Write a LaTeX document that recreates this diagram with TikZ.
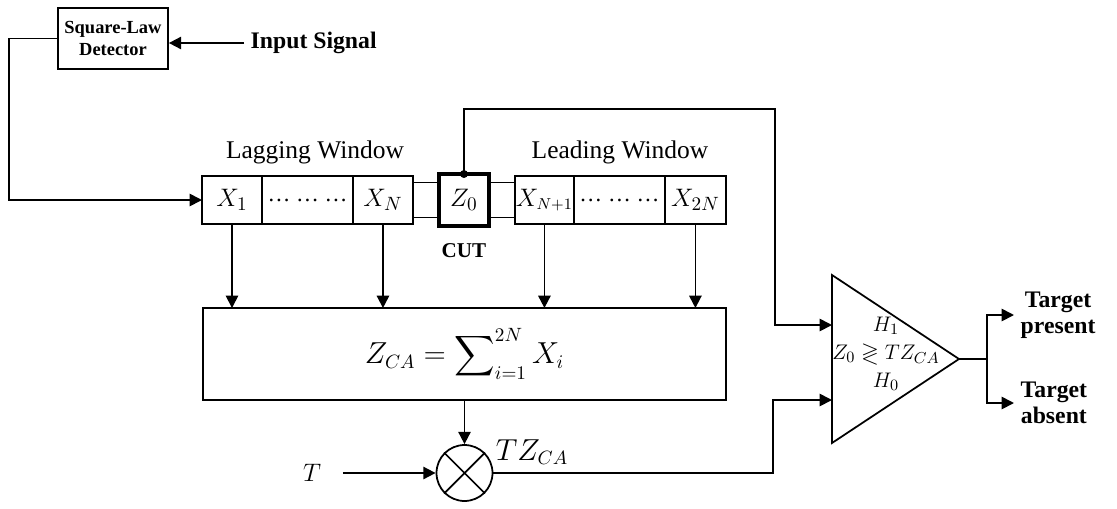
\documentclass[tikz,border=0pt]{standalone}
\usepackage{amsmath,amssymb}
\usepackage{fontspec}
\setmainfont{Liberation Serif}
\usetikzlibrary{arrows.meta,positioning,calc}

\begin{document}
\begin{tikzpicture}[x=0.02cm,y=-0.02cm,
  line width=1pt, font=\fontsize{15}{18}\selectfont,
  cell/.style={draw,outer sep=0pt,inner sep=0pt,minimum height=0.96cm},
  link/.style={draw,outer sep=0pt,inner sep=0pt,minimum width=0.52cm,minimum height=0.7cm},
  lbl/.style={font=\fontsize{14.5}{17}\selectfont},
  bold/.style={font=\fontsize{13.5}{15}\selectfont\bfseries,align=center},
  arr/.style={-{Triangle[length=7pt,width=7pt]}},
  node distance=0pt]
\useasboundingbox (0,0) rectangle (1117,508);
% detector and input
\node[draw,align=center,minimum width=2.2cm,minimum height=1.22cm,inner sep=1pt,
  font=\fontsize{10.5}{12.5}\selectfont\bfseries] (sld) at (113,38.5) {Square-Law\\Detector};
\node[bold,anchor=west] (inp) at (244,43) {Input Signal};
\draw[arr] (inp) -- (inp -| sld.east);
% reference cells
\node[cell,minimum width=1.2cm,anchor=west] (x1) at (202,200) {$X_1$};
\node[cell,minimum width=1.82cm,right=of x1,font=\fontsize{13}{16}\selectfont] (d1) {\ldots\ \ldots\ \ldots};
\node[cell,minimum width=1.2cm,right=of d1] (xn) {$X_N$};
\node[link,right=of xn] (l1) {};
\node[cell,minimum width=1.0cm,minimum height=1.04cm,line width=1.8pt,right=of l1] (z0) {$Z_0$};
\node[link,right=of z0] (l2) {};
\node[cell,minimum width=1.18cm,right=of l2,font=\fontsize{13.5}{16}\selectfont] (xa) {$X_{N+1}$};
\node[cell,minimum width=1.82cm,right=of xa,font=\fontsize{13}{16}\selectfont] (d2) {\ldots\ \ldots\ \ldots};
\node[cell,minimum width=1.22cm,right=of d2] (xb) {$X_{2N}$};
\node[lbl] (lag) at (315,152) {Lagging Window};
\node[lbl] (lead) at (620,152) {Leading Window};
\node[bold,font=\fontsize{12}{14}\selectfont\bfseries,below=6pt of z0] (cut) {CUT};
\draw[arr] (sld.west) -- ++(-48,0) |- (x1.west);
% sum and multiplier
\node[draw,outer sep=0pt,minimum width=10.46cm,minimum height=1.84cm,
  font=\fontsize{16}{19}\selectfont] (sum) at (464.5,354) {$Z_{CA}=\displaystyle\sum\nolimits_{i=1}^{2N}X_i$};
\foreach \c in {x1,xn,xa,xb}
  \draw[arr] (\c.south) -- (\c.south |- sum.north);
\node[draw,circle,minimum size=1.12cm,inner sep=0pt] (mul) at (464.5,473) {};
\draw (mul.45) -- (mul.225) (mul.135) -- (mul.315);
\draw[arr] (sum) -- (mul);
\node[minimum width=1.2cm] (t) at (312,473) {$T$};
\draw[arr] (t) -- (mul);
\node[font=\fontsize{16}{19}\selectfont] (tz) at (532,452) {$TZ_{CA}$};
% comparator
\coordinate (cA) at (832,275);
\coordinate (cB) at (832,443);
\coordinate (apex) at (959,359);
\coordinate (inA) at (832,325);
\coordinate (inB) at (832,400);
\draw (cA) -- (apex) -- (cB) -- cycle;
\node[align=center,font=\fontsize{13}{16}\selectfont] (cmp) at (886,354) {$H_1$\\$Z_0\gtrless TZ_{CA}$\\$H_0$};
\draw[arr] (z0.north) |- ++(311,-65) |- (inA);
\fill (z0.north) circle (0.08cm);
\draw[arr] (mul.east) -- ++(280,0) |- (inB);
% decision
\draw (apex) -- ++(28,0) coordinate (br);
\node[bold,anchor=west] (tp) at (1014,315) {Target\\present};
\node[bold,anchor=west] (ta) at (1014,403) {Target\\absent};
\draw[arr] (br) |- (tp.west);
\draw[arr] (br) |- (ta.west);
\end{tikzpicture}
\end{document}
